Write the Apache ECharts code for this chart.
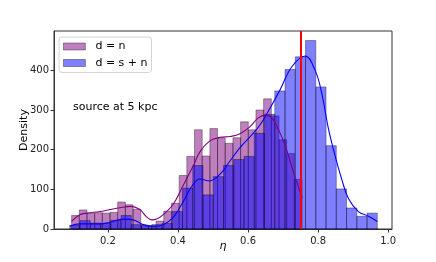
<!DOCTYPE html>
<html><head><meta charset="utf-8">
<script src="https://cdn.jsdelivr.net/npm/echarts@6/dist/echarts.min.js"></script>
<style>html,body{margin:0;padding:0;background:#fff}#c{width:436px;height:262px}</style>
</head><body><div id="c"></div>
<script>
const xTicks = [0.2, 0.4, 0.6, 0.8, 1.0];
const yTicks = [0, 100, 200, 300, 400];
const xRange = [0.046, 1.011];
const yRange = [0, 499];

// histogram d = n (30 equal bins over its data range)
const purpleName = 'd = n';
const purpleRange = [0.0963, 0.7542];
const purpleCounts = [34,48,39,41,40,42,68,61,50,10,8,20,45,65,135,183,250,184,253,229,216,230,270,250,300,328,285,225,190,125];

// histogram d = s + n
const blueName = 'd = s + n';
const blueRange = [0.0910, 0.9690];
const blueCounts = [9,21,15,14,22,34,11,8,11,14,44,103,160,86,132,160,175,183,241,289,348,402,434,475,358,210,101,53,32,40];

// KDE curves
const purpleKdeX = [0.096,0.12,0.141,0.177,0.206,0.239,0.265,0.291,0.311,0.325,0.339,0.358,0.387,0.415,0.444,0.463,0.491,0.52,0.549,0.577,0.606,0.629,0.649,0.668,0.687,0.706,0.734,0.755];
const purpleKdeY = [19,36,40,44,49,54,57,49,30,23,25,36,63,110,160,195,222,231,233,240,258,280,287,280,250,210,132,78];
const blueKdeX = [0.091,0.12,0.15,0.177,0.206,0.244,0.272,0.301,0.33,0.358,0.387,0.415,0.439,0.463,0.49,0.52,0.549,0.577,0.606,0.634,0.663,0.691,0.725,0.763,0.791,0.811,0.829,0.849,0.868,0.887,0.915,0.944,0.969];
const blueKdeY = [7,13,13,13,17,25,23,11,7,11,30,69,107,126,121,138,172,205,233,262,305,350,409,436,401,340,255,183,124,76,44,32,19];

const markerValue = 0.75;
const annotation = 'source at 5 kpc';

const FONT = 'DejaVu Sans';
const purpleFill = 'rgba(128,0,128,0.5)';
const blueFill = 'rgba(0,0,255,0.5)';
const edge = 'rgba(0,0,0,0.45)';

function histSeries(name, range, counts, fill) {
  const w = (range[1] - range[0]) / counts.length;
  const data = counts.map((c, i) => [range[0] + i * w, range[0] + (i + 1) * w, c]);
  return {
    type: 'custom', name: name, data: data,
    encode: { x: [0, 1], y: 2 },
    itemStyle: { color: fill },
    renderItem: function (params, api) {
      const p0 = api.coord([api.value(0), api.value(2)]);
      const p1 = api.coord([api.value(1), 0]);
      return { type: 'rect',
        shape: { x: p0[0], y: p0[1], width: p1[0] - p0[0], height: p1[1] - p0[1] },
        style: { fill: fill, stroke: edge, lineWidth: 0.8 } };
    }
  };
}
function zip(a, b) { return a.map((v, i) => [v, b[i]]); }

const chart = echarts.init(document.getElementById('c'), null, { renderer: 'canvas' });
chart.setOption({
  animation: false,
  backgroundColor: '#fff',
  grid: { left: 54, top: 31, width: 338, height: 198, show: true, borderColor: '#333', borderWidth: 1, backgroundColor: 'transparent' },
  xAxis: {
    type: 'value', min: xRange[0], max: xRange[1],
    name: 'η', nameLocation: 'middle', nameGap: 12, nameMoveOverlap: false,
    nameTextStyle: { fontFamily: FONT, fontSize: 11, fontStyle: 'italic', color: '#000' },
    axisLine: { show: true, onZero: false, lineStyle: { color: '#333' } },
    axisTick: { show: true, length: 3.5, customValues: xTicks, lineStyle: { color: '#333' } },
    axisLabel: { customValues: xTicks, margin: 7, fontFamily: FONT, fontSize: 10, color: '#222',
      formatter: v => v.toFixed(1) },
    splitLine: { show: false }
  },
  yAxis: {
    type: 'value', min: yRange[0], max: yRange[1],
    name: 'Density', nameLocation: 'middle', nameGap: 24, nameMoveOverlap: false,
    nameTextStyle: { fontFamily: FONT, fontSize: 11, color: '#000' },
    axisLine: { show: true, lineStyle: { color: '#333' } },
    axisTick: { show: true, length: 3.5, customValues: yTicks, lineStyle: { color: '#333' } },
    axisLabel: { customValues: yTicks, margin: 5, fontFamily: FONT, fontSize: 10, color: '#222' },
    splitLine: { show: false }
  },
  legend: {
    orient: 'vertical', left: 59, top: 37,
    padding: [3, 4, 3, 4], itemWidth: 22, itemHeight: 7, itemGap: 3.5,
    borderColor: '#d4d4d4', borderWidth: 1, borderRadius: 3,
    backgroundColor: 'rgba(255,255,255,0.8)',
    textStyle: { fontFamily: FONT, fontSize: 11, color: '#000', lineHeight: 13, padding: [0, 0, 0, 5] },
    data: [
      { name: purpleName, icon: 'rect', itemStyle: { color: purpleFill, borderColor: edge, borderWidth: 0.8 } },
      { name: blueName, icon: 'rect', itemStyle: { color: blueFill, borderColor: edge, borderWidth: 0.8 } }
    ]
  },
  graphic: [{
    type: 'text', x: 73, y: 107,
    style: { text: annotation, font: '11px "DejaVu Sans"', fill: '#000', verticalAlign: 'middle' }
  }],
  series: [
    histSeries(purpleName, purpleRange, purpleCounts, purpleFill),
    { type: 'line', name: purpleName + ' kde', data: zip(purpleKdeX, purpleKdeY), smooth: 0.4,
      showSymbol: false, lineStyle: { color: '#800080', width: 1.1 } },
    histSeries(blueName, blueRange, blueCounts, blueFill),
    { type: 'line', name: blueName + ' kde', data: zip(blueKdeX, blueKdeY), smooth: 0.4,
      showSymbol: false, lineStyle: { color: '#0000ff', width: 1.1 },
      markLine: { silent: true, symbol: ['none', 'none'], label: { show: false },
        lineStyle: { color: '#ff0000', width: 2, type: 'solid' },
        data: [{ xAxis: markerValue }] } }
  ]
});
</script></body></html>
